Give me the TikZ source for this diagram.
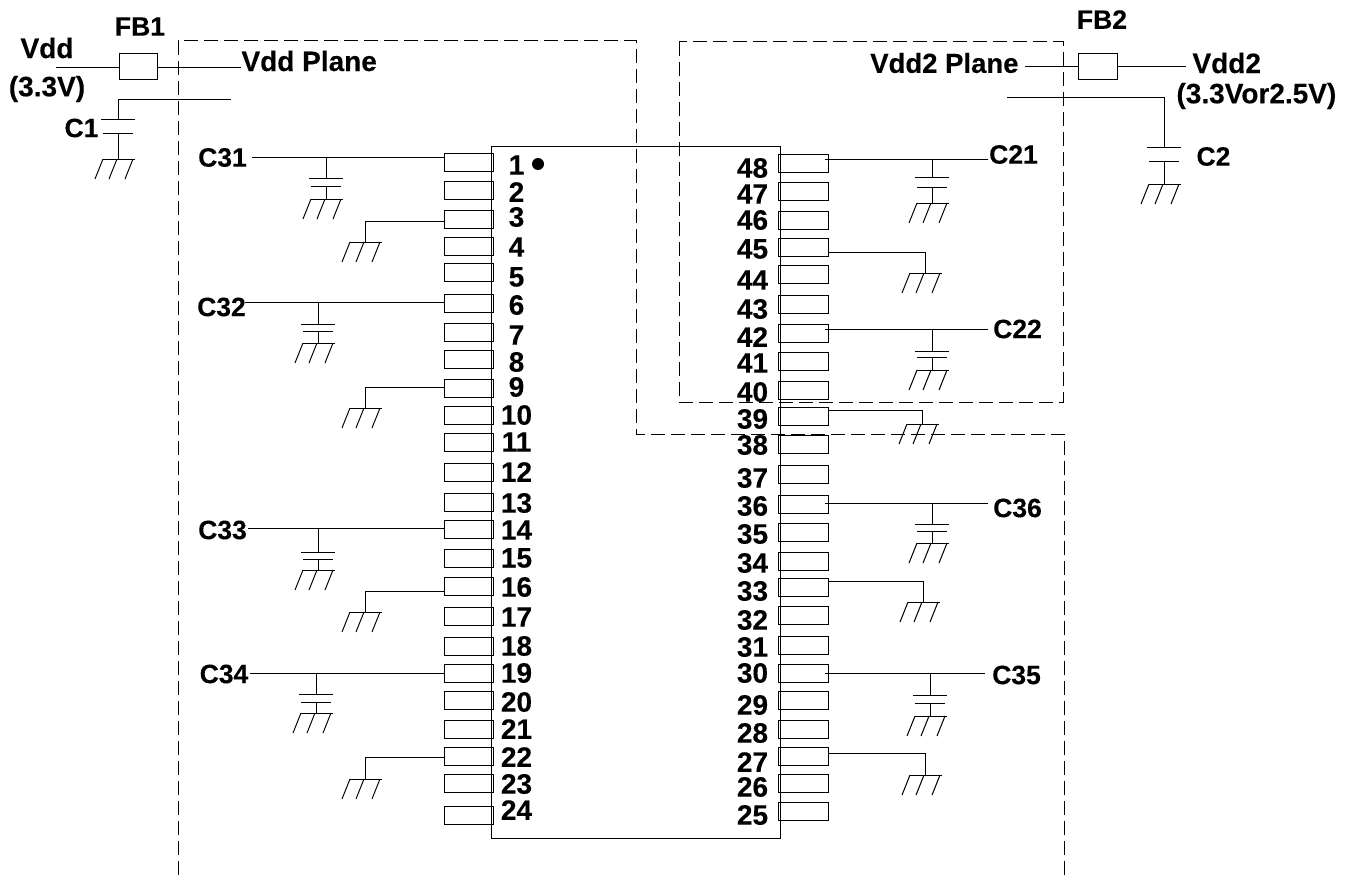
\documentclass[tikz,border=0pt]{standalone}
\usepackage{fontspec}
\setmainfont{Liberation Sans}[BoldFeatures={FakeBold=0.2}]
\usepackage{tikz}

\tikzset{
  pinbox/.style={draw, minimum width=49pt, minimum height=18pt, inner sep=0pt, outer sep=0pt},
  pinno/.style={font=\fontsize{28}{30}\selectfont\bfseries, inner sep=0pt},
  lbl/.style={font=\fontsize{26.5}{28}\selectfont\bfseries, inner sep=0pt},
  biglbl/.style={font=\fontsize{28}{30}\selectfont\bfseries, inner sep=0pt},
  ferrite/.style={draw, minimum width=38pt, minimum height=26pt, inner sep=0pt, outer sep=0pt},
  plane/.style={dash pattern=on 14pt off 6pt}
}

% ground symbol, stem x and y
\newcommand{\earthat}[2]{
  \draw (#1-15,#2) -- (#1+17,#2);
  \draw (#1+15,#2) -- (#1+7,#2+20);
  \draw (#1-1,#2) -- (#1-9,#2+20);
  \draw (#1-15,#2) -- (#1-23,#2+20);
}
% capacitor to ground: x, start y, plate 1, plate 2, ground y
\newcommand{\capat}[5]{
  \draw (#1,#2) -- (#1,#3);
  \draw (#1-17,#3) -- (#1+17,#3);
  \draw (#1-15,#4) -- (#1+15,#4);
  \draw (#1,#4) -- (#1,#5);
  \earthat{#1}{#5}
}

\begin{document}
\begin{tikzpicture}[x=1pt, y=-1pt, line width=1pt]
  \useasboundingbox (0,0) rectangle (1355,875);

  % planes
  \draw [plane] (178,875) -- (178,41) -- (636,41) -- (636,434) -- (1064,434) -- (1064,875);
  \draw [plane] (679,42) rectangle (1063,402);

  % chip
  \node (chip) [draw, minimum width=289pt, minimum height=692pt, inner sep=0pt, outer sep=0pt] at (635.5,492) {};
  \fill (538,164) circle (6);

  % pins
  \foreach \n/\py/\ly in {1/162/165, 2/190/192, 3/219/217, 4/246/247, 5/272/277, 6/303.5/305,
      7/332/335, 8/359/362, 9/388/387, 10/415/415, 11/442/442, 12/472/472, 13/502/503,
      14/529/530, 15/558/558, 16/586/587, 17/616/617, 18/646/646, 19/673/673, 20/700/702,
      21/729.5/729, 22/756/757, 23/783/784, 24/815/810} {
    \node (pin\n) [pinbox] at (468.5,\py) {};
    \node (no\n) [pinno] at (516.5,\ly) {\n};
  }
  \foreach \n/\py/\ly in {48/163.5/168, 47/191/194, 46/220/220, 45/247/249, 44/274/280, 43/304.5/309,
      42/333/337, 41/361/363, 40/390/392, 39/416/419, 38/444/445, 37/474/478, 36/504/506,
      35/532/534, 34/561/563, 33/587/591, 32/615/620, 31/645/647, 30/673/673, 29/700/705,
      28/729.5/733, 27/756/762, 26/783/787, 25/811/815} {
    \node (pin\n) [pinbox, minimum width=50pt] at (803,\py) {};
    \node (no\n) [pinno] at (752.5,\ly) {\n};
  }

  % supply left
  \node (FB1) [ferrite] at (138,67) {};
  \node (lblFB1) [lbl] at (140,26.5) {FB1};
  \node (lblVdd) [biglbl] at (47,48) {Vdd};
  \node (lblVddv) [biglbl] at (47,89) {(3.3V)};
  \node (lblPlane) [biglbl, anchor=west] at (241,61) {Vdd Plane};
  \node (lblC1) [lbl] at (81.5,128) {C1};
  \coordinate (vin) at (56,68);
  \coordinate (planeA) at (241,68);
  \coordinate (railA) at (231,99);
  \coordinate (railB) at (118,99);
  \draw (vin) -- (vin -| FB1.west);
  \draw (planeA -| FB1.east) -- (planeA);
  \draw (railA) -- (railB);
  \capat{118}{99}{119}{133}{159}

  % supply right
  \node (FB2) [ferrite, minimum width=39pt] at (1097.5,66.5) {};
  \node (lblFB2) [lbl] at (1102,19.5) {FB2};
  \node (lblVdd2) [biglbl, anchor=west] at (1192,63) {Vdd2};
  \node (lblVdd2v) [biglbl, anchor=west] at (1176,96) {(3.3Vor2.5V)};
  \node (lblPlane2) [biglbl, font=\fontsize{27.5}{30}\selectfont\bfseries, anchor=east] at (1019,63) {Vdd2 Plane};
  \node (lblC2) [lbl, anchor=west] at (1196,156.5) {C2};
  \coordinate (planeB) at (1025,66.5);
  \coordinate (vin2) at (1186,66.5);
  \coordinate (railC) at (1007,97);
  \coordinate (railD) at (1165,97);
  \draw (planeB) -- (FB2.west);
  \draw (FB2.east) -- (vin2);
  \draw (railC) -- (railD);
  \capat{1164}{97}{147}{161}{184}

  % decoupling left
  \foreach \nm/\xa/\xs/\ly/\ny/\pin/\cx/\pa/\pb/\gy in {C31/222.5/252/157.5/157/pin1/326/178/186/199,
      C32/221.5/245/307/302/pin6/318/324/331/343,
      C33/222.5/248/530/528/pin14/318/552/559/570,
      C34/224/250/674/673/pin19/316/694/702/713} {
    \node (lbl\nm) [lbl] at (\xa,\ly) {\nm};
    \coordinate (net\nm) at (\xs,\ny);
    \draw (net\nm) -- (net\nm -| \pin.west);
    \capat{\cx}{\ny}{\pa}{\pb}{\gy}
  }

  % grounded pins left
  \foreach \pin/\ny/\gy in {pin3/221/242, pin9/387/408, pin16/591/612, pin22/757/779} {
    \coordinate (gnd\pin) at (365,\ny);
    \draw (\pin.west |- gnd\pin) -- (gnd\pin) -- (365,\gy);
    \earthat{365}{\gy}
  }

  % decoupling right
  \foreach \nm/\xa/\ly/\ny/\pin/\cx/\xe/\pa/\pb/\gy in {C21/1013.5/154.5/159/pin48/932/988/177/187/203,
      C22/1017.5/329/329/pin42/932/988/351/357/370,
      C36/1017.5/508/503/pin36/932/988/524/531/543,
      C35/1016.5/675/673/pin30/930/985/695/703/716} {
    \node (lbl\nm) [lbl] at (\xa,\ly) {\nm};
    \coordinate (net\nm) at (\xe,\ny);
    \draw [shorten >=-3pt] (net\nm) -- (net\nm -| \pin.east);
    \capat{\cx}{\ny}{\pa}{\pb}{\gy}
  }

  % grounded pins right
  \foreach \pin/\ny/\cx/\gy in {pin45/252/925/273, pin39/410/922/424, pin33/581/923/602, pin27/753/925/775} {
    \coordinate (gnd\pin) at (\cx,\ny);
    \draw (\pin.east |- gnd\pin) -- (gnd\pin) -- (\cx,\gy);
    \earthat{\cx}{\gy}
  }
\end{tikzpicture}
\end{document}
